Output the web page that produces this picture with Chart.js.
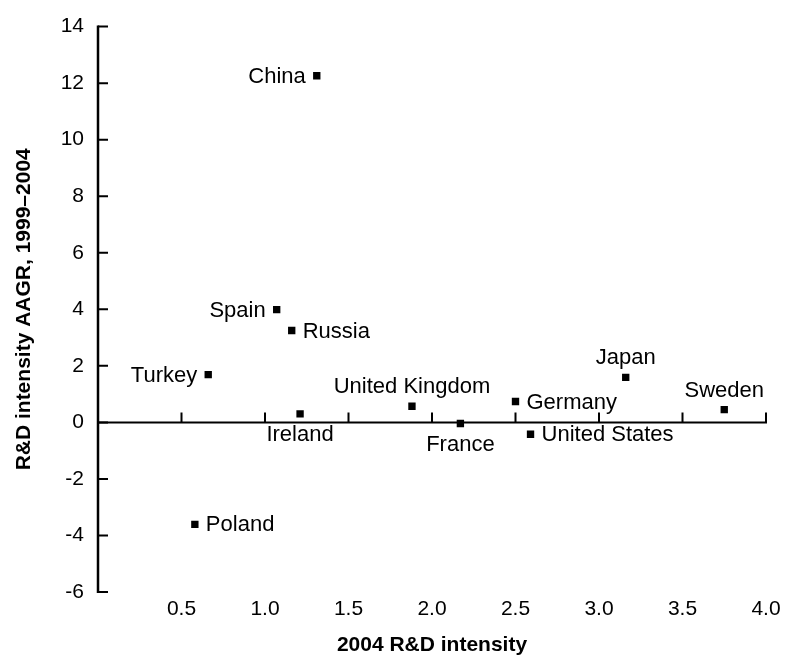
<!DOCTYPE html>
<html>
<head>
<meta charset="utf-8">
<script src="https://cdn.jsdelivr.net/npm/chart.js@4.4.1/dist/chart.umd.min.js"></script>
<style>
html,body{margin:0;padding:0;background:#ffffff;}
#wrap{width:786px;height:658px;}
</style>
</head>
<body>
<div id="wrap"><canvas id="c" width="786" height="658"></canvas></div>
<script>
// ---- data ----
const countries = ['China','Spain','Russia','Turkey','Ireland','United Kingdom','France','Germany','United States','Japan','Sweden','Poland'];
const rdIntensity2004 = [1.31, 1.07, 1.16, 0.66, 1.21, 1.88, 2.17, 2.50, 2.59, 3.16, 3.75, 0.58];
const aagr1999to2004 = [12.26, 3.99, 3.25, 1.69, 0.30, 0.57, -0.04, 0.74, -0.42, 1.59, 0.45, -3.61];
const xTickValues = [0.5, 1.0, 1.5, 2.0, 2.5, 3.0, 3.5, 4.0];
const yTickValues = [-6, -4, -2, 0, 2, 4, 6, 8, 10, 12, 14];
const xTitle = '2004 R&D intensity';
const yTitle = 'R&D intensity AAGR, 1999\u20132004';

// label placement relative to each marker (style, not data)
const labelSide = {
  'China':'left','Spain':'left','Russia':'right','Turkey':'left','Ireland':'below',
  'United Kingdom':'above','France':'below','Germany':'right','United States':'right',
  'Japan':'above','Sweden':'above','Poland':'right'
};

const FONT = '"Liberation Sans", Arial, Helvetica, sans-serif';

const axesPlugin = {
  id: 'crossAxes',
  beforeDatasetsDraw(chart) {
    const {ctx, scales: {x, y}} = chart;
    const x0 = x.getPixelForValue(0);
    const y0 = y.getPixelForValue(0);
    const yTop = y.getPixelForValue(yTickValues[yTickValues.length - 1]);
    const yBot = y.getPixelForValue(yTickValues[0]);
    const xEnd = x.getPixelForValue(xTickValues[xTickValues.length - 1]);
    ctx.save();
    ctx.strokeStyle = '#000';
    // y axis line
    ctx.lineWidth = 2.5;
    ctx.beginPath();
    ctx.moveTo(x0, yTop - 1);
    ctx.lineTo(x0, yBot + 1);
    ctx.stroke();
    // y tick marks (inward)
    ctx.lineWidth = 2;
    ctx.beginPath();
    yTickValues.forEach(v => {
      const p = y.getPixelForValue(v);
      ctx.moveTo(x0, p);
      ctx.lineTo(x0 + 10, p);
    });
    ctx.stroke();
    // x axis line at y = 0
    ctx.lineWidth = 2;
    ctx.beginPath();
    ctx.moveTo(x0, y0);
    ctx.lineTo(xEnd + 1, y0);
    ctx.stroke();
    // x tick marks (upward)
    ctx.beginPath();
    xTickValues.forEach(v => {
      const p = x.getPixelForValue(v);
      ctx.moveTo(p, y0);
      ctx.lineTo(p, y0 - 10);
    });
    ctx.stroke();
    ctx.restore();
  }
};

const labelPlugin = {
  id: 'pointLabels',
  afterDatasetsDraw(chart) {
    const {ctx} = chart;
    const meta = chart.getDatasetMeta(0);
    ctx.save();
    ctx.fillStyle = '#000';
    ctx.font = '22px ' + FONT;
    ctx.textBaseline = 'middle';
    meta.data.forEach((pt, i) => {
      const name = countries[i];
      const side = labelSide[name];
      let tx = pt.x, ty = pt.y;
      if (side === 'left') { ctx.textAlign = 'right'; tx = pt.x - 11; ty = pt.y + 1; }
      else if (side === 'right') { ctx.textAlign = 'left'; tx = pt.x + 11; ty = pt.y + 1; }
      else if (side === 'above') { ctx.textAlign = 'center'; ty = pt.y - 19; }
      else { ctx.textAlign = 'center'; ty = pt.y + 21; }
      ctx.fillText(name, tx, ty);
    });
    ctx.restore();
  }
};

new Chart(document.getElementById('c'), {
  type: 'scatter',
  data: {
    datasets: [{
      label: 'Countries',
      data: countries.map((c, i) => ({x: rdIntensity2004[i], y: aagr1999to2004[i]})),
      pointStyle: 'rect',
      pointRadius: 5.2,
      pointHoverRadius: 5.2,
      backgroundColor: '#000',
      borderColor: '#000',
      borderWidth: 0
    }]
  },
  options: {
    responsive: false,
    animation: false,
    devicePixelRatio: 1,
    layout: {padding: {left: 0, top: 16, right: 20, bottom: 0}},
    plugins: {legend: {display: false}, tooltip: {enabled: false}},
    scales: {
      x: {
        type: 'linear',
        position: 'bottom',
        min: 0, max: 4,
        grid: {display: false, drawTicks: false},
        border: {display: false},
        afterBuildTicks: s => { s.ticks = xTickValues.map(v => ({value: v})); },
        afterFit: s => { s.height = 66; },
        ticks: {
          color: '#000',
          padding: 5,
          autoSkip: false,
          maxRotation: 0,
          font: {family: FONT, size: 21},
          callback: v => Number(v).toFixed(1)
        },
        title: {
          display: true,
          text: xTitle,
          color: '#000',
          font: {family: FONT, size: 21, weight: 'bold'},
          padding: {top: 0, bottom: 0}
        }
      },
      y: {
        type: 'linear',
        position: 'left',
        min: -6, max: 14,
        grid: {display: false, drawTicks: false},
        border: {display: false},
        afterBuildTicks: s => { s.ticks = yTickValues.map(v => ({value: v})); },
        afterFit: s => { s.width = 98; },
        ticks: {
          color: '#000',
          padding: 14,
          autoSkip: false,
          font: {family: FONT, size: 21},
          callback: v => String(v)
        },
        title: {
          display: true,
          text: yTitle,
          color: '#000',
          font: {family: FONT, size: 21, weight: 'bold'},
          padding: {top: 12, bottom: 0}
        }
      }
    }
  },
  plugins: [axesPlugin, labelPlugin]
});
</script>
</body>
</html>
